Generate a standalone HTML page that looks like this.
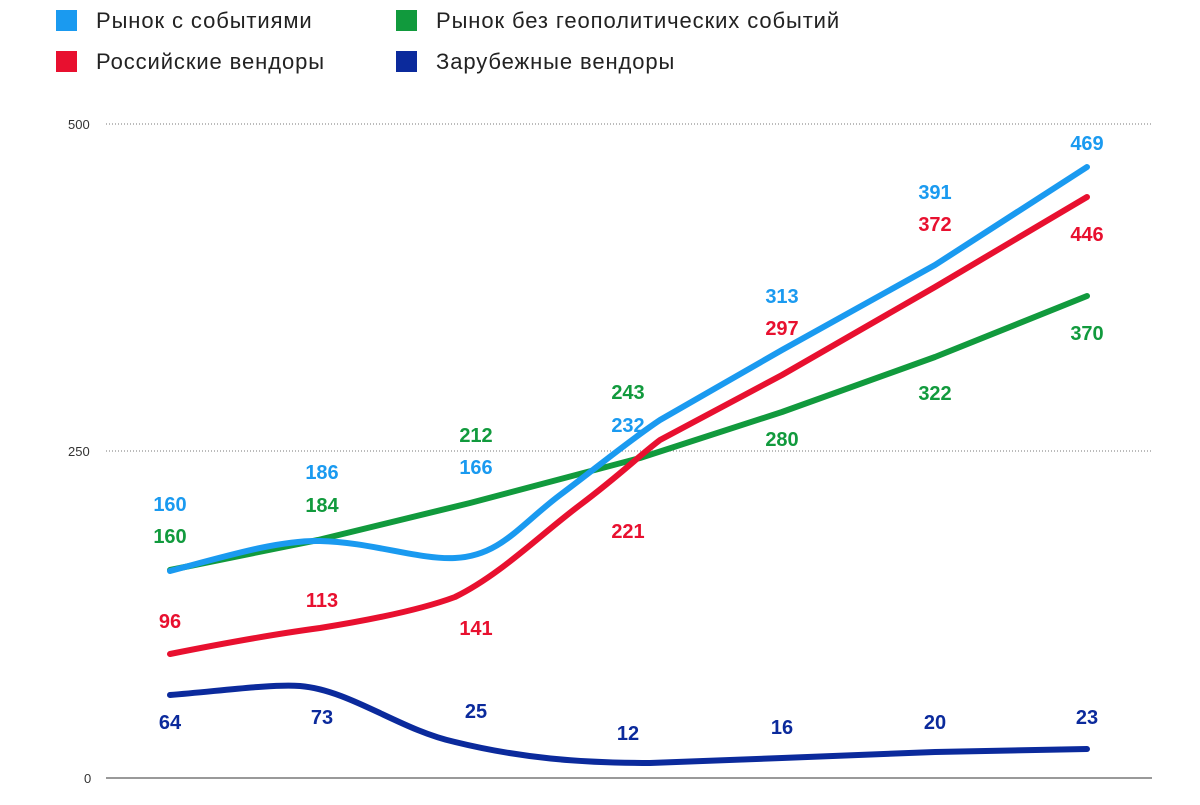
<!DOCTYPE html>
<html><head><meta charset="utf-8"><style>
body{margin:0;background:#fff;width:1200px;height:800px;overflow:hidden;font-family:"Liberation Sans",sans-serif}
</style></head><body>
<svg width="1200" height="800" xmlns="http://www.w3.org/2000/svg" font-family="Liberation Sans, sans-serif">
<rect x="56" y="10" width="21" height="21" fill="#1a9af0"/>
<rect x="56" y="51" width="21" height="21" fill="#e8102f"/>
<rect x="396" y="10" width="21" height="21" fill="#119a3d"/>
<rect x="396" y="51" width="21" height="21" fill="#0b2a9c"/>
<g font-size="22" fill="#222" letter-spacing="0.9">
<text x="96" y="28">Рынок с событиями</text>
<text x="96" y="69">Российские вендоры</text>
<text x="436" y="28">Рынок без геополитических событий</text>
<text x="436" y="69">Зарубежные вендоры</text>
</g>
<g font-size="13" fill="#333">
<text x="68" y="129">500</text>
<text x="68" y="456">250</text>
<text x="84" y="783">0</text>
</g>
<line x1="106" y1="124" x2="1152" y2="124" stroke="#777" stroke-dasharray="1 2"/>
<line x1="106" y1="451" x2="1152" y2="451" stroke="#777" stroke-dasharray="1 2"/>
<line x1="106" y1="778" x2="1152" y2="778" stroke="#333" stroke-width="1"/>
<g fill="none" stroke-width="6" stroke-linecap="round" stroke-linejoin="round">
<path stroke="#119a3d" d="M170 570 L318 540 L470 503 L640 458 L782 412 L935 357 L1087 296"/>
<path stroke="#1a9af0" d="M170 571 C230 555 280 540 320 541 C370 542 420 560 455 558 C500 556 520 525 560 495 C600 465 630 440 660 420 L782 350 L935 265 L1087 167"/>
<path stroke="#e8102f" d="M170 654 C240 640 290 632 320 628 C370 620 420 610 455 597 C500 575 540 535 580 505 C620 475 640 455 660 440 L782 375 L935 287 L1087 197"/>
<path stroke="#0b2a9c" d="M170 695 C220 691 270 684 300 686 C350 690 400 730 455 742 C520 758 580 763 650 763 L782 758 L935 752 L1087 749"/>
</g>
<g font-size="20" font-weight="bold" text-anchor="middle">
<g fill="#1a9af0"><text x="170" y="511">160</text><text x="322" y="479">186</text><text x="476" y="474">166</text><text x="628" y="432">232</text><text x="782" y="303">313</text><text x="935" y="199">391</text><text x="1087" y="150">469</text></g>
<g fill="#119a3d"><text x="170" y="543">160</text><text x="322" y="512">184</text><text x="476" y="442">212</text><text x="628" y="399">243</text><text x="782" y="446">280</text><text x="935" y="400">322</text><text x="1087" y="340">370</text></g>
<g fill="#e8102f"><text x="170" y="628">96</text><text x="322" y="607">113</text><text x="476" y="635">141</text><text x="628" y="538">221</text><text x="782" y="335">297</text><text x="935" y="231">372</text><text x="1087" y="241">446</text></g>
<g fill="#0b2a9c"><text x="170" y="729">64</text><text x="322" y="724">73</text><text x="476" y="718">25</text><text x="628" y="740">12</text><text x="782" y="734">16</text><text x="935" y="729">20</text><text x="1087" y="724">23</text></g>
</g>
</svg>
</body></html>
